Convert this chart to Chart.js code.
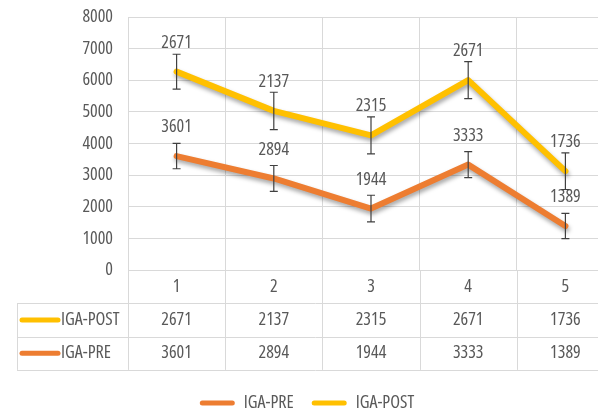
<!DOCTYPE html>
<html>
<head>
<meta charset="utf-8">
<script src="https://cdn.jsdelivr.net/npm/chart.js@4/dist/chart.umd.min.js"></script>
<style>
    html, body { margin: 0; padding: 0; background: #ffffff; overflow: hidden; }
    #wrap { width: 598px; height: 414px; overflow: hidden; }
    #box { width: 622px; height: 414px; }
</style>
</head>
<body>
<div id="wrap"><div id="box"><canvas id="igaChart"></canvas></div></div>
<script>
// Chart data
const categories = ['1', '2', '3', '4', '5'];
const preValues = [3601, 2894, 1944, 3333, 1389];
const postValues = [2671, 2137, 2315, 2671, 1736];
const preErrors = [400, 410, 420, 410, 400];
const postErrors = [550, 590, 585, 585, 580];
const seriesNames = ['IGA-PRE', 'IGA-POST'];
const seriesColors = ['#ED7D31', '#FFC000'];

// narrow font like the original (Open Sans has a width axis)
const FAMILY = "'Open Sans', sans-serif";
const STRETCH = 'condensed';
const TEXT = '#595959';
const GRID = '#d9d9d9';

function canvasFont(size) {
    return STRETCH + ' ' + size + 'px ' + FAMILY;
}

// shadow under lines, error bars and value labels
const decorations = {
    id: 'decorations',
    beforeDatasetsDraw(chart) {
        const ctx = chart.ctx;
        ctx.save();
        ctx.shadowColor = 'rgba(0, 0, 0, 0.35)';
        ctx.shadowBlur = 4;
        ctx.shadowOffsetX = 1;
        ctx.shadowOffsetY = 3;
    },
    afterDatasetsDraw(chart) {
        const ctx = chart.ctx;
        ctx.restore();
        const yScale = chart.scales.y;
        const errs = [preErrors, postErrors];
        const vals = [preValues, postValues];
        ctx.save();
        chart.data.datasets.forEach(function(ds, d) {
            const meta = chart.getDatasetMeta(d);
            meta.data.forEach(function(pt, i) {
                const e = yScale.getPixelForValue(0) - yScale.getPixelForValue(errs[d][i]);
                ctx.strokeStyle = '#404040';
                ctx.lineWidth = 1.2;
                ctx.beginPath();
                ctx.moveTo(pt.x, pt.y - e);
                ctx.lineTo(pt.x, pt.y + e);
                ctx.moveTo(pt.x - 4, pt.y - e);
                ctx.lineTo(pt.x + 4, pt.y - e);
                ctx.moveTo(pt.x - 4, pt.y + e);
                ctx.lineTo(pt.x + 4, pt.y + e);
                ctx.stroke();
                ctx.fillStyle = TEXT;
                ctx.font = canvasFont(18);
                ctx.textAlign = 'center';
                ctx.textBaseline = 'middle';
                ctx.fillText(String(vals[d][i]), pt.x, pt.y - 29);
            });
        });
        ctx.restore();
    }
};

// Excel style data table below the plot
const dataTable = {
    id: 'dataTable',
    afterDraw(chart) {
        const ctx = chart.ctx;
        const xScale = chart.scales.x;
        const area = chart.chartArea;
        const half = (xScale.getPixelForValue(1) - xScale.getPixelForValue(0)) / 2;
        const top = area.bottom;
        const rowH = 33.3;
        const tableLeft = 17;
        const rows = [
            { name: seriesNames[1], color: seriesColors[1], values: postValues },
            { name: seriesNames[0], color: seriesColors[0], values: preValues }
        ];
        ctx.save();
        ctx.strokeStyle = GRID;
        ctx.lineWidth = 1;
        ctx.beginPath();
        // column lines
        ctx.moveTo(area.left + 0.5, top);
        ctx.lineTo(area.left + 0.5, top + rowH * 3);
        categories.forEach(function(c, i) {
            const xr = Math.round(xScale.getPixelForValue(i) + half) + 0.5;
            ctx.moveTo(xr, top);
            ctx.lineTo(xr, top + rowH * 3);
        });
        ctx.moveTo(tableLeft + 0.5, top + rowH);
        ctx.lineTo(tableLeft + 0.5, top + rowH * 3);
        // row lines
        for (let r = 1; r <= 3; r++) {
            const y = Math.round(top + rowH * r) + 0.5;
            ctx.moveTo(tableLeft, y);
            ctx.lineTo(area.right, y);
        }
        ctx.stroke();

        ctx.fillStyle = TEXT;
        ctx.font = canvasFont(18);
        ctx.textAlign = 'center';
        ctx.textBaseline = 'middle';
        categories.forEach(function(c, i) {
            ctx.fillText(c, xScale.getPixelForValue(i), top + rowH / 2);
        });
        rows.forEach(function(row, r) {
            const cy = top + rowH * (r + 1.5);
            ctx.strokeStyle = row.color;
            ctx.lineWidth = 5;
            ctx.lineCap = 'round';
            ctx.beginPath();
            ctx.moveTo(22, cy);
            ctx.lineTo(58, cy);
            ctx.stroke();
            ctx.fillStyle = TEXT;
            ctx.textAlign = 'left';
            ctx.fillText(row.name, 61, cy);
            ctx.textAlign = 'center';
            row.values.forEach(function(v, i) {
                ctx.fillText(String(v), xScale.getPixelForValue(i), cy);
            });
        });
        ctx.restore();
    }
};

function initIgaChart() {
    return new Chart(document.getElementById('igaChart'), {
        type: 'line',
        data: {
            labels: categories,
            datasets: [{
                label: seriesNames[0],
                data: preValues,
                borderColor: seriesColors[0],
                backgroundColor: seriesColors[0],
                borderWidth: 6,
                pointRadius: 0,
                tension: 0,
                fill: false,
                borderJoinStyle: 'round',
                borderCapStyle: 'round'
            }, {
                label: seriesNames[1],
                data: postValues,
                borderColor: seriesColors[1],
                backgroundColor: seriesColors[1],
                borderWidth: 6,
                pointRadius: 0,
                tension: 0,
                fill: false,
                borderJoinStyle: 'round',
                borderCapStyle: 'round'
            }]
        },
        options: {
            responsive: true,
            maintainAspectRatio: false,
            animation: false,
            layout: {
                padding: { left: 0, right: 8, top: 17, bottom: -8 }
            },
            scales: {
                y: {
                    stacked: true,
                    min: 0,
                    max: 8000,
                    border: { display: false },
                    grid: { color: GRID, drawTicks: false },
                    ticks: {
                        stepSize: 1000,
                        padding: 15,
                        color: TEXT,
                        font: { family: FAMILY, weight: STRETCH, size: 18 },
                        callback: function(value) {
                            return String(value);
                        }
                    },
                    afterFit: function(scale) {
                        scale.width = 128;
                        scale.paddingTop = 0;
                        scale.paddingBottom = 0;
                    }
                },
                x: {
                    offset: true,
                    border: { display: false },
                    grid: { color: GRID, drawTicks: false, offset: true },
                    ticks: { display: false },
                    afterFit: function(scale) { scale.height = 106; }
                }
            },
            plugins: {
                legend: {
                    position: 'bottom',
                    labels: {
                        boxWidth: 35,
                        boxHeight: 5,
                        padding: 18,
                        color: TEXT,
                        useBorderRadius: true,
                        borderRadius: 2.5,
                        font: { family: FAMILY, weight: STRETCH, size: 18 },
                        generateLabels: function(chart) {
                            return chart.data.datasets.map(function(ds, i) {
                                return {
                                    text: ds.label,
                                    fillStyle: ds.borderColor,
                                    strokeStyle: ds.borderColor,
                                    lineWidth: 0,
                                    borderRadius: 2.5,
                                    fontColor: TEXT,
                                    hidden: false,
                                    datasetIndex: i
                                };
                            });
                        }
                    }
                },
                tooltip: { enabled: false }
            }
        },
        plugins: [decorations, dataTable]
    });
}

document.addEventListener('DOMContentLoaded', function() {
    initIgaChart();
});
</script>
</body>
</html>
